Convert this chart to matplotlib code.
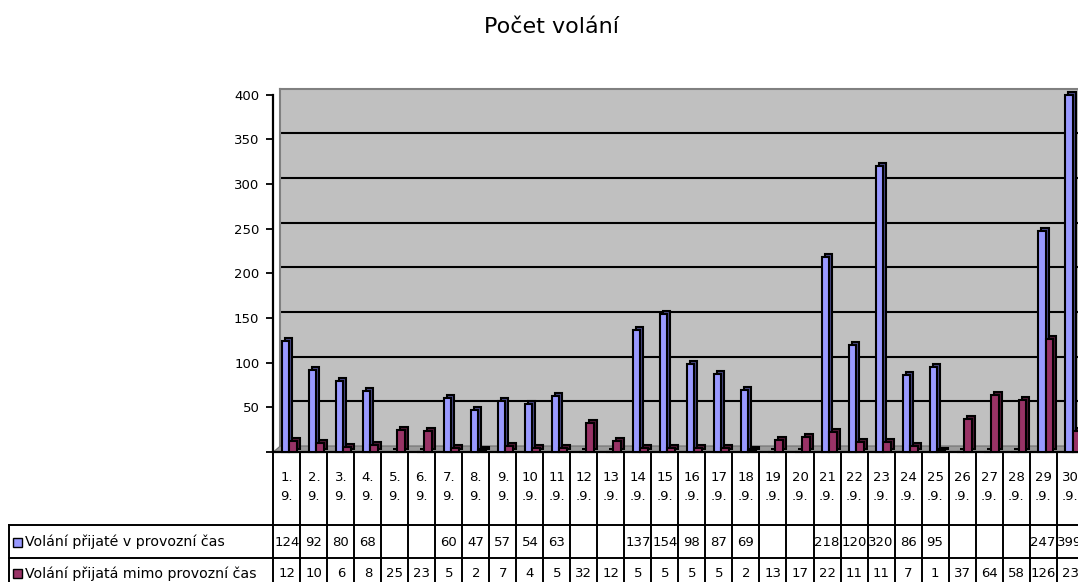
import matplotlib
matplotlib.use("Agg")
import matplotlib.pyplot as plt
import matplotlib.transforms as mtransforms
from matplotlib.patches import Polygon, Rectangle
import numpy as np

plt.rcParams['font.family'] = ['DejaVu Sans']

# ---------------- data ----------------
title = "Počet volání"
dates = ["1.9.", "2.9.", "3.9.", "4.9.", "5.9.", "6.9.", "7.9.", "8.9.", "9.9.", "10.9.",
         "11.9.", "12.9.", "13.9.", "14.9.", "15.9.", "16.9.", "17.9.", "18.9.", "19.9.", "20.9.",
         "21.9.", "22.9.", "23.9.", "24.9.", "25.9.", "26.9.", "27.9.", "28.9.", "29.9.", "30.9."]
series1_name = "Volání přijaté v provozní čas"
series2_name = "Volání přijatá mimo provozní čas"
series1 = [124, 92, 80, 68, None, None, 60, 47, 57, 54,
           63, None, None, 137, 154, 98, 87, 69, None, None,
           218, 120, 320, 86, 95, None, None, None, 247, 399]
series2 = [12, 10, 6, 8, 25, 23, 5, 2, 7, 4,
           5, 32, 12, 5, 5, 5, 5, 2, 13, 17,
           22, 11, 11, 7, 1, 37, 64, 58, 126, 23]
yticks = [0, 50, 100, 150, 200, 250, 300, 350, 400]
ytick_labels = ["", "50", "100", "150", "200", "250", "300", "350", "400"]

c1, c1_side = "#9999FF", "#4a4a85"
c2, c2_side = "#993366", "#4f1a35"
wall_color = "#C0C0C0"

W, H = 1078, 582
fig = plt.figure(figsize=(W / 100, H / 100), dpi=100)


def fx(x):
    return x / W


def fy(y):
    return 1 - y / H


# layout (pixels)
ax_left, ax_right = 273.3, 1083.6
ax_bottom, ax_top = 452.0, 94.6
dx, dy = 7.0, 6.0

# back wall axes
wall = fig.add_axes([fx(ax_left + dx), fy(ax_bottom - dy),
                     fx(ax_right - ax_left), (ax_bottom - ax_top) / H])
wall.set_zorder(1)
wall.set_facecolor(wall_color)
wall.set_xlim(0, len(dates))
wall.set_ylim(0, 400)
for s in ["right", "bottom"]:
    wall.spines[s].set_visible(False)
for s in ["left", "top"]:
    wall.spines[s].set_color("#808080")
    wall.spines[s].set_linewidth(1.5)
wall.set_xticks([])
wall.set_yticks([50, 100, 150, 200, 250, 300, 350])
wall.tick_params(left=False, labelleft=False)
wall.grid(axis="y", color="black", linewidth=1.5)

# front axes (bars + value axis)
ax = fig.add_axes([fx(ax_left), fy(ax_bottom),
                   fx(ax_right - ax_left), (ax_bottom - ax_top) / H])
ax.set_zorder(2)
ax.patch.set_visible(False)
ax.set_xlim(0, len(dates))
ax.set_ylim(0, 400)
for s in ["right", "top"]:
    ax.spines[s].set_visible(False)
ax.spines["left"].set_linewidth(1.6)
ax.spines["bottom"].set_linewidth(1.6)
ax.set_yticks(yticks)
ax.set_yticklabels(ytick_labels)
ax.tick_params(axis="y", direction="out", length=5, width=1.3, pad=5, labelsize=9.5)
ax.set_xticks([])

# floor strip between front base line and back wall
floor = Polygon([(fx(ax_left), fy(ax_bottom)), (fx(ax_left + dx), fy(ax_bottom - dy)),
                 (fx(ax_right + dx), fy(ax_bottom - dy)), (fx(ax_right), fy(ax_bottom))],
                closed=True, transform=fig.transFigure, facecolor="#9a9a9a",
                edgecolor="#707070", linewidth=0.8, zorder=1.5)
fig.patches.append(floor)

x = np.arange(len(dates))
v1 = np.array([np.nan if v is None else v for v in series1], dtype=float)
v2 = np.array(series2, dtype=float)
h1 = np.nan_to_num(v1)

depth = mtransforms.offset_copy(ax.transData, fig=fig, x=3, y=3, units="dots")
w1, w2 = 0.28, 0.27
off1, off2 = 0.31, 0.59
elw = 1.5
ax.bar(x + off1, h1, width=w1, align="edge", color=c1_side, edgecolor="black",
       linewidth=elw, transform=depth, zorder=2, clip_on=False)
ax.bar(x + off1, h1, width=w1, align="edge", color=c1, edgecolor="black",
       linewidth=elw, zorder=3, clip_on=False)
ax.bar(x + off2, v2, width=w2, align="edge", color=c2_side, edgecolor="black",
       linewidth=elw, transform=depth, zorder=4, clip_on=False)
ax.bar(x + off2, v2, width=w2, align="edge", color=c2, edgecolor="black",
       linewidth=elw, zorder=5, clip_on=False)

# ---------------- data table ----------------
tab = fig.add_axes([0, 0, 1, 1])
tab.set_zorder(3)
tab.patch.set_visible(False)
tab.set_xlim(0, W)
tab.set_ylim(H, 0)
tab.axis("off")
blend = mtransforms.blended_transform_factory(ax.transData, tab.transData)

row_top, row1, row2, row_bot = 452.0, 525.0, 558.0, 591.0
lw = 1.4
n = len(dates)
# vertical column lines
for i in range(n + 1):
    tab.plot([i, i], [row_top, row_bot], color="black", lw=lw, transform=blend,
             clip_on=False, solid_capstyle="butt")
# horizontal lines across columns
for yy in [row1, row2]:
    tab.plot([0, n], [yy, yy], color="black", lw=lw, transform=blend, clip_on=False)
# legend label cells
for yy in [row1, row2]:
    tab.plot([9.3, ax_left], [yy, yy], color="black", lw=lw, clip_on=False)
tab.plot([9.3, 9.3], [row1, row_bot], color="black", lw=lw, clip_on=False)

fs = 9.5
for i, d in enumerate(dates):
    lab = d[:2] + "\n" + d[2:]
    tab.text(i + 0.5, 487, lab, transform=blend, ha="center", va="center",
             fontsize=fs, linespacing=1.55)
    if series1[i] is not None:
        tab.text(i + 0.5, 542, str(series1[i]), transform=blend, ha="center",
                 va="center", fontsize=fs)
    tab.text(i + 0.5, 573.5, str(series2[i]), transform=blend, ha="center",
             va="center", fontsize=fs)

# legend keys + series names
for yc, col, name in [(542, c1, series1_name), (573.5, c2, series2_name)]:
    tab.add_patch(Rectangle((12.5, yc - 4.5), 9, 9, facecolor=col, edgecolor="black",
                            linewidth=1.0))
    tab.text(25, yc, name, ha="left", va="center", fontsize=10.2)

fig.text(fx(552), fy(27), title, ha="center", va="center", fontsize=16)

fig.savefig("out.png", dpi=100)
